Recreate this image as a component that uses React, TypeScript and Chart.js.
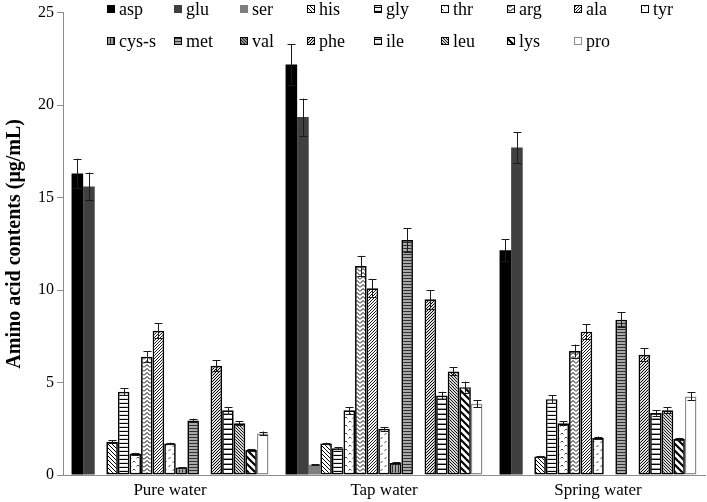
import React, { useEffect, useRef } from 'react';
import { Chart, registerables } from 'chart.js';

Chart.register(...registerables);

const categories = ['Pure water', 'Tap water', 'Spring water'];
const aminoAcids = ['asp', 'glu', 'ser', 'his', 'gly', 'thr', 'arg', 'ala', 'tyr', 'cys-s', 'met', 'val', 'phe', 'ile', 'leu', 'lys', 'pro'];
const yTicks = [0, 5, 10, 15, 20, 25];

const asp = [16.3, 22.2, 12.15];
const glu = [15.6, 19.35, 17.7];
const ser = [null, 0.55, null];
const his = [1.8, 1.7, 1.0];
const gly = [4.5, 1.45, 4.1];
const thr = [1.15, 3.5, 2.8];
const arg = [6.4, 11.3, 6.7];
const ala = [7.8, 10.1, 7.75];
const tyr = [1.7, 2.5, 2.0];
const cys = [0.4, 0.65, null];
const met = [2.95, 12.7, 8.4];
const val = [null, null, null];
const phe = [5.9, 9.5, 6.5];
const ile = [3.5, 4.3, 3.35];
const leu = [2.8, 5.6, 3.5];
const lys = [1.35, 4.75, 1.95];
const pro = [2.25, 3.85, 4.25];

const aspErr = [0.8, 1.1, 0.6];
const gluErr = [0.75, 1.0, 0.85];
const serErr = [0, 0.03, 0];
const hisErr = [0.08, 0.05, 0.04];
const glyErr = [0.2, 0.06, 0.2];
const thrErr = [0.05, 0.18, 0.1];
const argErr = [0.3, 0.55, 0.35];
const alaErr = [0.4, 0.5, 0.4];
const tyrErr = [0.05, 0.1, 0.08];
const cysErr = [0.02, 0.03, 0];
const metErr = [0.1, 0.65, 0.4];
const valErr = [0, 0, 0];
const pheErr = [0.3, 0.5, 0.35];
const ileErr = [0.18, 0.2, 0.15];
const leuErr = [0.12, 0.22, 0.15];
const lysErr = [0.05, 0.3, 0.06];
const proErr = [0.1, 0.2, 0.22];

const seriesValues = [asp, glu, ser, his, gly, thr, arg, ala, tyr, cys, met, val, phe, ile, leu, lys, pro];
const seriesErrors = [aspErr, gluErr, serErr, hisErr, glyErr, thrErr, argErr, alaErr, tyrErr, cysErr, metErr, valErr, pheErr, ileErr, leuErr, lysErr, proErr];

const FONT = "'Liberation Serif', 'Times New Roman', serif";

type Drawer = (c: CanvasRenderingContext2D, w: number, h: number) => void;

function makePattern(bg: string, fg: string, w: number, h: number, lw: number, draw: Drawer): CanvasPattern | string {
  const cv = document.createElement('canvas');
  cv.width = w;
  cv.height = h;
  const c = cv.getContext('2d');
  if (!c) return bg;
  c.fillStyle = bg;
  c.fillRect(0, 0, w, h);
  c.strokeStyle = fg;
  c.lineWidth = lw;
  c.beginPath();
  draw(c, w, h);
  c.stroke();
  return c.createPattern(cv, 'repeat') || bg;
}

const diagDown: Drawer = (c, s) => {
  c.moveTo(-1, -1); c.lineTo(s + 1, s + 1);
  c.moveTo(-1, s - 1); c.lineTo(1, s + 1);
  c.moveTo(s - 1, -1); c.lineTo(s + 1, 1);
};
const diagUp: Drawer = (c, s) => {
  c.moveTo(-1, s + 1); c.lineTo(s + 1, -1);
  c.moveTo(-1, 1); c.lineTo(1, -1);
  c.moveTo(s - 1, s + 1); c.lineTo(s + 1, s - 1);
};
const horiz: Drawer = (c, w, h) => {
  c.moveTo(0, h - 0.5); c.lineTo(w, h - 0.5);
};
const vert: Drawer = (c, w, h) => {
  c.moveTo(w - 0.5, 0); c.lineTo(w - 0.5, h);
};
const zigzag: Drawer = (c, w, h) => {
  c.moveTo(0, h - 0.5); c.lineTo(w / 2, 0.5); c.lineTo(w, h - 0.5);
};
const wave: Drawer = (c) => {
  c.moveTo(0.5, 2.5); c.lineTo(2, 1); c.lineTo(3.5, 2.5);
  c.moveTo(4.5, 6.5); c.lineTo(6, 5); c.lineTo(7.5, 6.5);
};
const wave2: Drawer = (c) => {
  c.moveTo(0.5, 3); c.lineTo(2.5, 1);
  c.moveTo(4.5, 7); c.lineTo(6.5, 5);
};

const errorBarPlugin = {
  id: 'errorBars',
  afterDatasetsDraw(chart: any) {
    const ctx = chart.ctx;
    const yScale = chart.scales.y;
    ctx.save();
    ctx.strokeStyle = '#1a1a1a';
    ctx.lineWidth = 1;
    chart.data.datasets.forEach((ds: any, di: number) => {
      const meta = chart.getDatasetMeta(di);
      const errs = seriesErrors[di];
      meta.data.forEach((bar: any, i: number) => {
        const v = ds.data[i];
        const e = errs[i];
        if (v === null || v === undefined || !e) return;
        const x = Math.round(bar.x) + 0.5;
        const yt = yScale.getPixelForValue(v + e);
        const yb = yScale.getPixelForValue(Math.max(v - e, 0));
        ctx.beginPath();
        ctx.moveTo(x, yt); ctx.lineTo(x, yb);
        ctx.moveTo(x - 4, Math.round(yt) + 0.5); ctx.lineTo(x + 4, Math.round(yt) + 0.5);
        ctx.moveTo(x - 4, Math.round(yb) + 0.5); ctx.lineTo(x + 4, Math.round(yb) + 0.5);
        ctx.stroke();
      });
    });
    ctx.restore();
  },
};

const gridLegendPlugin = {
  id: 'gridLegend',
  afterDraw(chart: any) {
    const ctx = chart.ctx;
    const colX0 = 107;
    const colW = 66.7;
    const rowY = [9, 41];
    const perRow = 9;
    ctx.save();
    ctx.font = `18px ${FONT}`;
    ctx.textBaseline = 'middle';
    ctx.textAlign = 'left';
    chart.data.datasets.forEach((ds: any, i: number) => {
      const row = Math.floor(i / perRow);
      const col = i % perRow;
      const x = Math.round(colX0 + col * colW);
      const y = rowY[row];
      const bs = 8;
      ctx.fillStyle = ds.backgroundColor;
      ctx.fillRect(x, y - bs / 2, bs, bs);
      if (ds.borderWidth > 0) {
        ctx.strokeStyle = ds.borderColor;
        ctx.lineWidth = 1;
        ctx.strokeRect(x + 0.5, y - bs / 2 + 0.5, bs - 1, bs - 1);
      }
      ctx.fillStyle = '#000';
      ctx.fillText(ds.label, x + bs + 4, y + 1);
    });
    ctx.restore();
  },
};

export default function App() {
  const ref = useRef<HTMLCanvasElement>(null);

  useEffect(() => {
    document.body.style.margin = '0';
    const canvas = ref.current;
    if (!canvas) return;

    const styles: { bg: any; border: string; bw: number }[] = [
      { bg: '#000000', border: '#000000', bw: 0 },
      { bg: '#404040', border: '#404040', bw: 0 },
      { bg: '#7f7f7f', border: '#7f7f7f', bw: 0 },
      { bg: makePattern('#ffffff', '#000000', 4, 4, 1, diagDown), border: '#000', bw: 1.7 },
      { bg: makePattern('#ffffff', '#000000', 4, 4, 1.3, horiz), border: '#000', bw: 1.7 },
      { bg: makePattern('#ffffff', '#333333', 8, 8, 0.9, wave), border: '#000', bw: 1.7 },
      { bg: makePattern('#ffffff', '#000000', 6, 4, 1, zigzag), border: '#000', bw: 1.7 },
      { bg: makePattern('#ffffff', '#000000', 3, 3, 0.9, diagUp), border: '#000', bw: 1.7 },
      { bg: makePattern('#ffffff', '#333333', 8, 8, 0.9, wave2), border: '#000', bw: 1.7 },
      { bg: makePattern('#a0a0a0', '#303030', 3, 3, 1, vert), border: '#000', bw: 1.7 },
      { bg: makePattern('#a8a8a8', '#303030', 3, 3, 1, horiz), border: '#000', bw: 1.7 },
      { bg: makePattern('#909090', '#202020', 3, 3, 1, diagDown), border: '#000', bw: 1.7 },
      { bg: makePattern('#e0e0e0', '#000000', 3, 3, 1, diagUp), border: '#000', bw: 1.7 },
      { bg: makePattern('#ffffff', '#000000', 5, 5, 1.8, horiz), border: '#000', bw: 1.7 },
      { bg: makePattern('#d8d8d8', '#000000', 3, 3, 0.9, diagDown), border: '#000', bw: 1.7 },
      { bg: makePattern('#ffffff', '#000000', 7, 7, 2.2, diagDown), border: '#000', bw: 1.7 },
      { bg: '#ffffff', border: '#8c8c8c', bw: 1.5 },
    ];

    const datasets = aminoAcids.map((name, i) => ({
      label: name,
      data: seriesValues[i],
      backgroundColor: styles[i].bg,
      borderColor: styles[i].border,
      borderWidth: styles[i].bw,
      borderSkipped: false,
      categoryPercentage: 0.92,
      barPercentage: 1.0,
    }));

    const chart = new Chart(canvas, {
      type: 'bar',
      data: { labels: categories, datasets: datasets as any },
      options: {
        responsive: false,
        animation: false,
        devicePixelRatio: 1,
        layout: { padding: { left: 0, right: 2, top: 10, bottom: 0 } },
        plugins: {
          legend: { display: false },
          tooltip: { enabled: false },
        },
        scales: {
          x: {
            grid: { display: false, drawTicks: false },
            border: { display: true, color: '#8c8c8c', width: 1 },
            ticks: { font: { family: FONT, size: 17 }, color: '#000', padding: 5 },
            afterFit: (s: any) => { s.height = 27; },
          },
          y: {
            min: 0,
            max: 25,
            afterBuildTicks: (s: any) => { s.ticks = yTicks.map((v) => ({ value: v })); },
            ticks: { font: { family: FONT, size: 16 }, color: '#000', padding: 3 },
            grid: { drawOnChartArea: false, drawTicks: true, tickLength: 6, color: '#8c8c8c' },
            border: { display: true, color: '#8c8c8c', width: 1 },
            title: {
              display: true,
              text: 'Amino acid contents (μg/mL)',
              font: { family: FONT, size: 20, weight: 'bold' },
              color: '#000',
              padding: { top: 3, bottom: 0 },
            },
            afterFit: (s: any) => { s.width = 63; },
          },
        },
      },
      plugins: [errorBarPlugin, gridLegendPlugin],
    } as any);

    return () => chart.destroy();
  }, []);

  return (
    <canvas
      ref={ref}
      width={707}
      height={502}
      style={{ display: 'block', width: '707px', height: '502px' }}
    />
  );
}
